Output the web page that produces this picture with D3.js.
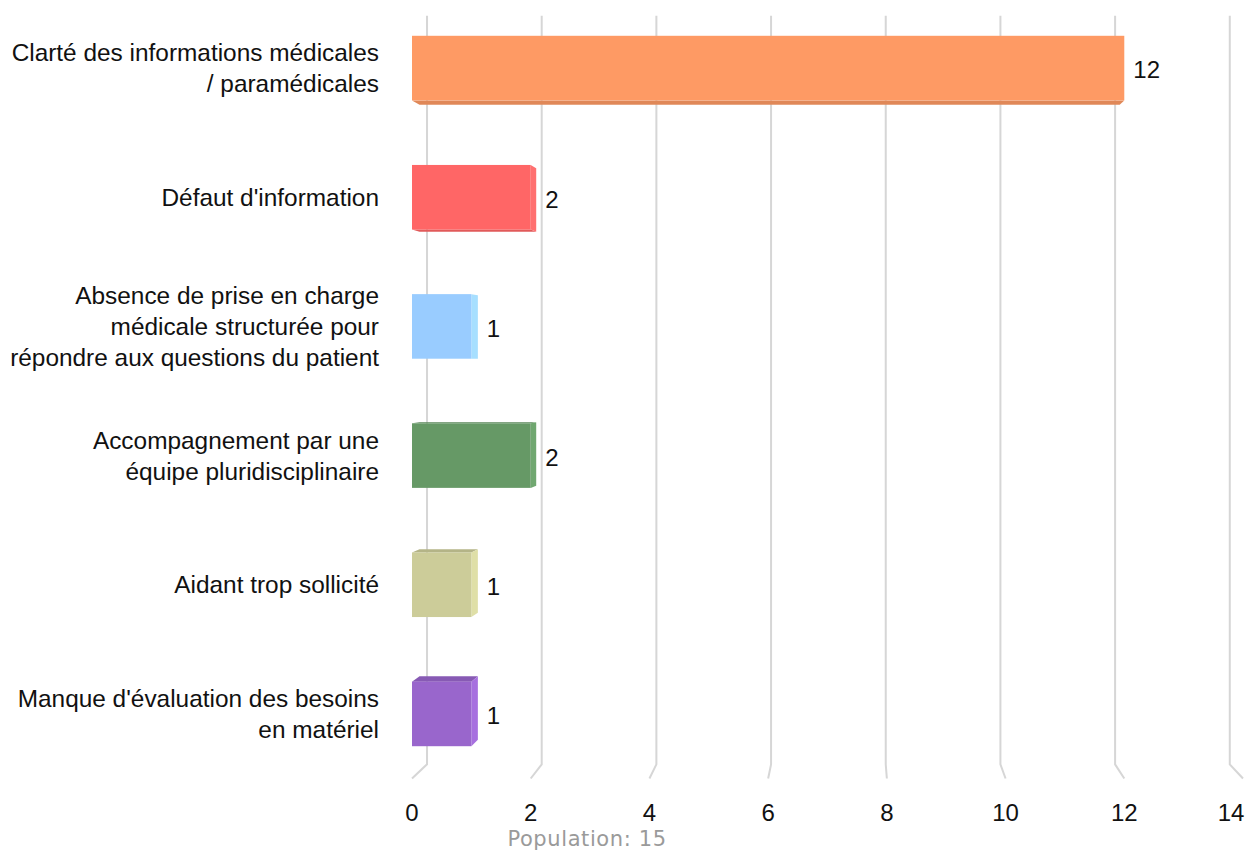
<!DOCTYPE html>
<html><head><meta charset="utf-8">
<script src="https://cdn.jsdelivr.net/npm/d3@7"></script>
<style>body{margin:0;background:#fff}svg{display:block}</style>
</head><body>
<svg id="c" width="1248" height="851"></svg>
<script>
const categories = [
  ["Clarté des informations médicales", "/ paramédicales"],
  ["Défaut d'information"],
  ["Absence de prise en charge", "médicale structurée pour", "répondre aux questions du patient"],
  ["Accompagnement par une", "équipe pluridisciplinaire"],
  ["Aidant trop sollicité"],
  ["Manque d'évaluation des besoins", "en matériel"]
];
const values = [12, 2, 1, 2, 1, 1];
const colors = ["#fe9a64", "#ff6666", "#99ccff", "#669966", "#cccc99", "#9966cc"];
const ticks = [0, 2, 4, 6, 8, 10, 12, 14];
const footer = "Population: 15";

const svg = d3.select("#c");
const font = "Liberation Sans, Arial, Helvetica, sans-serif";
const x = d3.scaleLinear().domain([0, 14]).range([412, 1243]);
const y = d3.scaleBand().domain(d3.range(categories.length)).range([3.5, 778.5]).paddingInner(0.5).paddingOuter(0.25);
const cx = 854, cy = 362, depth = 0.034;
function proj(px, py, z) { const s = 1 - depth * z; return [cx + (px - cx) * s, cy + (py - cy) * s]; }

const yTop = y.range()[0], yBot = y.range()[1];
// gridlines
const g = svg.append("g");
ticks.forEach(t => {
  const xf = x(t);
  const a = proj(xf, yTop, 1), b = proj(xf, yBot, 1), c = proj(xf, yBot, 0);
  g.append("path").attr("d", d3.line()([a, b, c])).attr("fill", "none").attr("stroke", "#d6d6d6").attr("stroke-width", 2);
});
// tick labels
ticks.forEach(t => {
  svg.append("text").attr("x", Math.min(x(t), 1231)).attr("y", 821).attr("text-anchor", "middle")
    .attr("font-family", font).attr("font-size", 24).attr("fill", "#111").text(t);
});

// bars
const zb = 0.5;
values.forEach((v, i) => {
  const x0 = x(0), x1 = x(v), y0 = y(i), y1 = y(i) + y.bandwidth();
  const col = d3.color(colors[i]);
  const bg = svg.append("g");
  const B = (px, py) => proj(px, py, zb);
  const poly = pts => d3.line()(pts) + "Z";
  if (y1 < cy) bg.append("path").attr("d", poly([[x0, y1], [x1, y1], B(x1, y1), B(x0, y1)])).attr("fill", col.darker(0.35));
  if (y0 > cy) bg.append("path").attr("d", poly([[x0, y0], [x1, y0], B(x1, y0), B(x0, y0)])).attr("fill", col.darker(0.35));
  if (x1 < cx) bg.append("path").attr("d", poly([[x1, y0], [x1, y1], B(x1, y1), B(x1, y0)])).attr("fill", col.brighter(0.25));
  bg.append("rect").attr("x", x0).attr("y", y0).attr("width", x1 - x0).attr("height", y1 - y0).attr("fill", colors[i]);
  const lx = Math.max(x1, B(x1, y0)[0]) + 9;
  svg.append("text").attr("x", lx).attr("y", (y0 + y1) / 2 + 2).attr("dy", "0.35em")
    .attr("font-family", font).attr("font-size", 24).attr("fill", "#111").text(v);
  // category label
  const lines = categories[i];
  const lh = 31, cyb = (y0 + y1) / 2;
  lines.forEach((ln, j) => {
    svg.append("text").attr("x", 379).attr("y", cyb + (j - (lines.length - 1) / 2) * lh).attr("dy", "0.35em")
      .attr("text-anchor", "end").attr("font-family", font).attr("font-size", 24.4)
      .attr("fill", "#111").text(ln);
  });
});

svg.append("text").attr("x", 587).attr("y", 846).attr("text-anchor", "middle")
  .attr("font-family", "DejaVu Sans, Verdana, sans-serif").attr("font-size", 21).attr("letter-spacing", 0.6)
  .attr("fill", "#9a9a9a").text(footer);
</script>
</body></html>
